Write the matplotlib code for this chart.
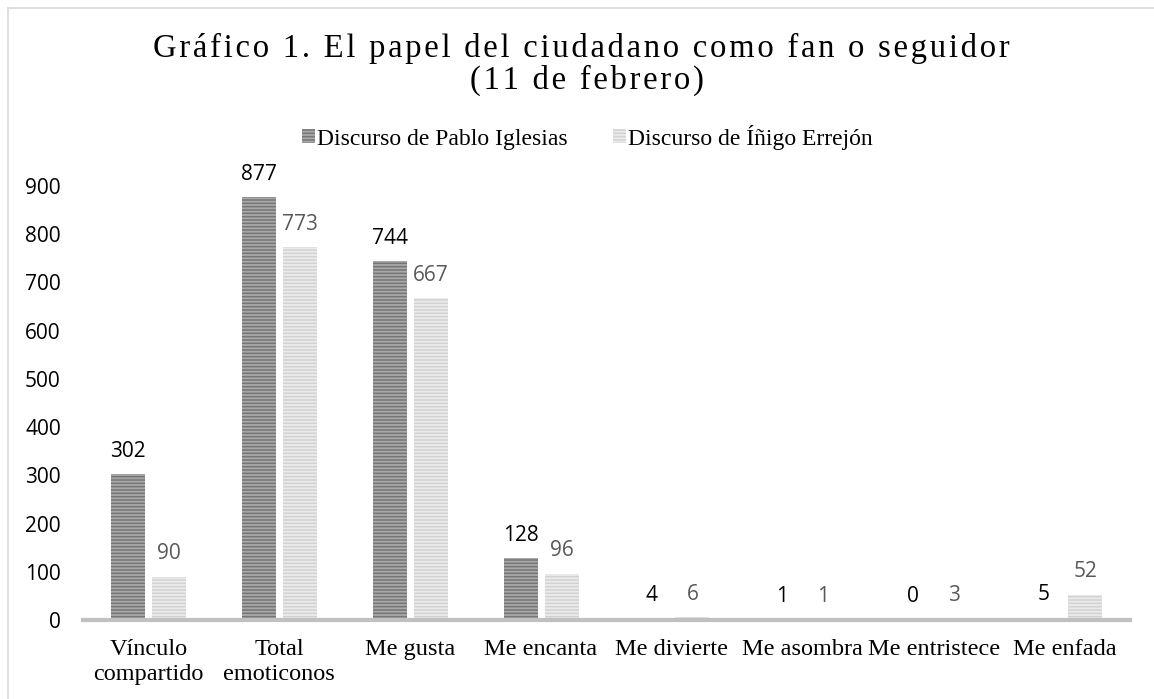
import matplotlib
matplotlib.use("Agg")
import matplotlib.pyplot as plt
import numpy as np
from matplotlib.patches import Patch
from matplotlib.lines import Line2D

categories = ["Vínculo\ncompartido", "Total\nemoticonos", "Me gusta", "Me encanta",
              "Me divierte", "Me asombra", "Me entristece", "Me enfada"]
pablo = [302, 877, 744, 128, 4, 1, 0, 5]
inigo = [90, 773, 667, 96, 6, 1, 3, 52]
series_names = ["Discurso de Pablo Iglesias", "Discurso de Íñigo Errejón"]
yticks = [0, 100, 200, 300, 400, 500, 600, 700, 800, 900]

plt.rcParams['hatch.linewidth'] = 1.3

fig = plt.figure(figsize=(11.54, 6.99), dpi=100)
ax = fig.add_axes([83/1154, 1-620/699, (1130-83)/1154, (620-186)/699])

x = np.arange(len(categories))
w = 0.26
off = 0.157
dark_face, dark_hatch = "#767676", "#a8a8a8"
light_face, light_hatch = "#d2d2d2", "#ebebeb"

ax.bar(x - off, pablo, w, color=dark_face, edgecolor=dark_hatch, linewidth=0, hatch="-----")
ax.bar(x + off, inigo, w, color=light_face, edgecolor=light_hatch, linewidth=0, hatch="-----")

lab_font = "Open Sans"
for xi, v in zip(x, pablo):
    ax.annotate(str(v), (xi - off, v), xytext=(0, 9), textcoords="offset points",
                ha="center", va="bottom", fontsize=15, color="#000000", family=lab_font)
for xi, v in zip(x, inigo):
    ax.annotate(str(v), (xi + off, v), xytext=(0, 9), textcoords="offset points",
                ha="center", va="bottom", fontsize=15, color="#595959", family=lab_font)

ax.set_xlim(-0.5, len(categories) - 0.5)
ax.set_ylim(0, 900)
ax.set_yticks(yticks)
ax.set_yticklabels([str(t) for t in yticks], family=lab_font, fontsize=15)
ax.set_xticks(x)
ax.set_xticklabels(categories, family="Liberation Serif", fontsize=17.5, linespacing=1.25)
ax.tick_params(axis="both", length=0)
ax.tick_params(axis="x", pad=14)
ax.tick_params(axis="y", pad=16)
for s in ["top", "right", "left"]:
    ax.spines[s].set_visible(False)
ax.spines["bottom"].set_color("#c0c0c0")
ax.spines["bottom"].set_linewidth(3)

title1 = "Gráfico 1. El papel del ciudadano como fan o seguidor"
title2 = "(11 de febrero)"
spaced = lambda s: "\u200a".join(list(s))
fig.text(581/1154, 1-57/699, spaced(title1), ha="center", va="baseline",
         family="Liberation Serif", fontsize=23.5)
fig.text(587/1154, 1-89/699, spaced(title2), ha="center", va="baseline",
         family="Liberation Serif", fontsize=23.5)

handles = [Patch(facecolor=dark_face, edgecolor=dark_hatch, hatch="-----", linewidth=0),
           Patch(facecolor=light_face, edgecolor=light_hatch, hatch="-----", linewidth=0)]
fig.legend(handles, series_names, loc="center", bbox_to_anchor=(0.509, 1-137/699),
           ncol=2, frameon=False, prop={"family": "Liberation Serif", "size": 17},
           handlelength=0.55, handleheight=0.55, handletextpad=0.1, columnspacing=1.9)

# figure frame lines (top and left)
fig.add_artist(Line2D([8/1154, 1], [1-8/699, 1-8/699], color="#d9d9d9", lw=1.2, transform=fig.transFigure))
fig.add_artist(Line2D([8/1154, 8/1154], [0, 1-8/699], color="#d9d9d9", lw=1.2, transform=fig.transFigure))

fig.savefig("out.png", dpi=100, facecolor="white")
